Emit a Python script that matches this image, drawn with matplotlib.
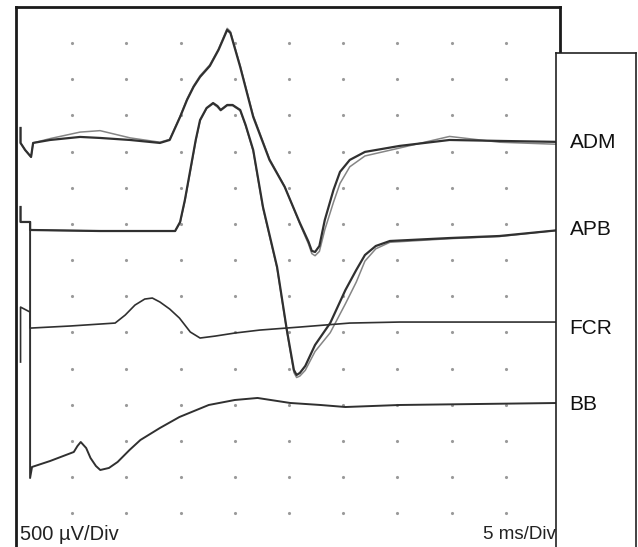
import numpy as np
import matplotlib
matplotlib.use("Agg")
import matplotlib.pyplot as plt
from matplotlib.transforms import blended_transform_factory

plt.rcParams['font.family'] = ['Liberation Sans', 'DejaVu Sans']

# time in ms, amplitude in uV relative to each trace baseline
adm_t = [0.25, 0.25, 0.67, 1.22, 1.41, 2.97, 5.74, 7.58, 10.35, 13.1, 14.0, 14.96, 15.6, 16.2,
         16.8, 17.7, 18.5, 18.9, 19.3, 19.6, 20.5, 21.7, 23.2, 24.6, 26.0, 26.8, 27.1, 27.4,
         27.8, 28.3, 29.1, 29.7, 30.6, 32.0, 35.2, 39.8, 44.4, 50.0]
adm_v = [207, 0, -97, -194, 0, 41, 83, 69, 41, 0, 41, 360, 595, 775,
         913, 1065, 1286, 1424, 1563, 1521, 1051, 360, -235, -608, -1106, -1368, -1493, -1508,
         -1425, -1065, -650, -400, -235, -124, -41, 41, 28, 14]
adm_v2 = [207, 0, -97, -194, 0, 60, 150, 170, 70, 10, 50, 370, 610, 790,
          930, 1080, 1300, 1440, 1585, 1540, 1070, 380, -220, -600, -1120, -1400, -1530, -1560,
          -1500, -1200, -820, -560, -330, -180, -70, 90, 10, -20]

apb_t = [0.25, 0.25, 1.13, 1.13, 1.22, 7.58, 14.5, 14.96, 15.4, 15.9, 16.4, 16.8, 17.4, 18.0,
         18.4, 18.7, 19.3, 19.8, 20.5, 21.0, 21.7, 22.6, 23.9, 24.8, 25.45, 25.7, 26.0, 26.5,
         27.4, 28.8, 30.2, 31.2, 32.0, 33.0, 34.3, 39.8, 44.4, 50.0]
apb_v = [318, 111, 111, 0, 0, -14, -14, 111, 415, 830, 1245, 1521, 1687, 1756,
         1715, 1660, 1729, 1729, 1660, 1452, 1106, 318, -512, -1383, -1936, -2005, -1977, -1880,
         -1590, -1286, -830, -553, -346, -221, -152, -111, -83, 0]
apb_v2 = [318, 111, 111, 0, 0, -14, -14, 100, 400, 810, 1230, 1510, 1680, 1745,
          1700, 1650, 1720, 1720, 1650, 1440, 1090, 300, -530, -1400, -1970, -2040, -2020, -1940,
          -1680, -1420, -1020, -720, -430, -260, -170, -120, -90, 0]

fcr_t = [0.25, 0.25, 1.13, 1.13, 1.22, 4.8, 8.97, 9.9, 10.8, 11.7, 12.4, 13.1, 14.0, 14.9,
         15.9, 16.8, 18.2, 20.0, 22.3, 26.0, 30.6, 35.2, 50.0]
fcr_v = [-470, 290, 221, 0, 0, 28, 69, 180, 318, 401, 415, 360, 263, 138,
         -55, -138, -111, -69, -28, 14, 69, 83, 83]

bb_t = [1.13, 1.13, 1.31, 2.97, 5.16, 5.5, 5.8, 6.3, 6.7, 7.2, 7.6, 8.4, 9.2, 10.3,
        11.3, 13.1, 14.9, 17.6, 20.0, 22.1, 25.1, 27.9, 30.2, 35.2, 50.0]
bb_v = [2530, -1010, -857, -775, -650, -567, -512, -595, -733, -844, -899, -871, -788, -622,
        -484, -318, -166, 0, 69, 97, 28, 0, -28, 0, 28]

muscles = ['ADM', 'APB', 'FCR', 'BB']
baselines = [-1880, -3084, -4440, -5504]

fig = plt.figure(figsize=(6.38, 5.47), dpi=100)
W, H = 638, 547
ax = fig.add_axes([16.2 / W, 0, 544.0 / W, 540 / H])
ax.set_xlim(-0.15, 50)
ax.set_ylim(-7468, 0)

# grid dots every division
gx, gy = np.meshgrid(np.arange(5, 50, 5), np.arange(-500, -7468, -500))
ax.plot(gx.ravel(), gy.ravel(), ls='none', marker='.', ms=2.5, color='#9a9a9a', zorder=1)

dark = '#303030'
light = '#858585'
ax.plot(adm_t, np.array(adm_v2) + baselines[0], color=light, lw=1.1, zorder=2)
ax.plot(adm_t, np.array(adm_v) + baselines[0], color=dark, lw=1.6, zorder=3)
ax.plot(apb_t, np.array(apb_v2) + baselines[1], color=light, lw=1.1, zorder=2)
ax.plot(apb_t, np.array(apb_v) + baselines[1], color=dark, lw=1.6, zorder=3)
ax.plot(fcr_t, np.array(fcr_v) + baselines[2], color=dark, lw=1.2, zorder=3)
ax.plot(bb_t, np.array(bb_v) + baselines[3], color=dark, lw=1.4, zorder=3)

ax.set_xticks([])
ax.set_yticks([])
ax.spines['bottom'].set_visible(False)
for s in ['left', 'top', 'right']:
    ax.spines[s].set_linewidth(2.0)
    ax.spines[s].set_color('#1a1a1a')

ax.text(0.007, 0.024, '500 µV/Div', transform=ax.transAxes, ha='left', va='center',
        fontsize=14.5, color='#222222')
ax.text(0.992, 0.024, '5 ms/Div', transform=ax.transAxes, ha='right', va='center',
        fontsize=13.5, color='#222222')

# label box on the right
box = fig.add_axes([556 / W, -0.02, 80 / W, (547 - 53) / H + 0.02])
box.set_xticks([])
box.set_yticks([])
box.set_facecolor('white')
box.spines['bottom'].set_visible(False)
for s in ['left', 'top', 'right']:
    box.spines[s].set_linewidth(1.2)
    box.spines[s].set_color('#222222')

tr = blended_transform_factory(box.transAxes, ax.transData)
for name, base in zip(muscles, baselines):
    box.text(0.17, base, name, transform=tr, ha='left', va='center', fontsize=15,
             color='#111111', clip_on=False)

fig.savefig('out.png', dpi=100)
